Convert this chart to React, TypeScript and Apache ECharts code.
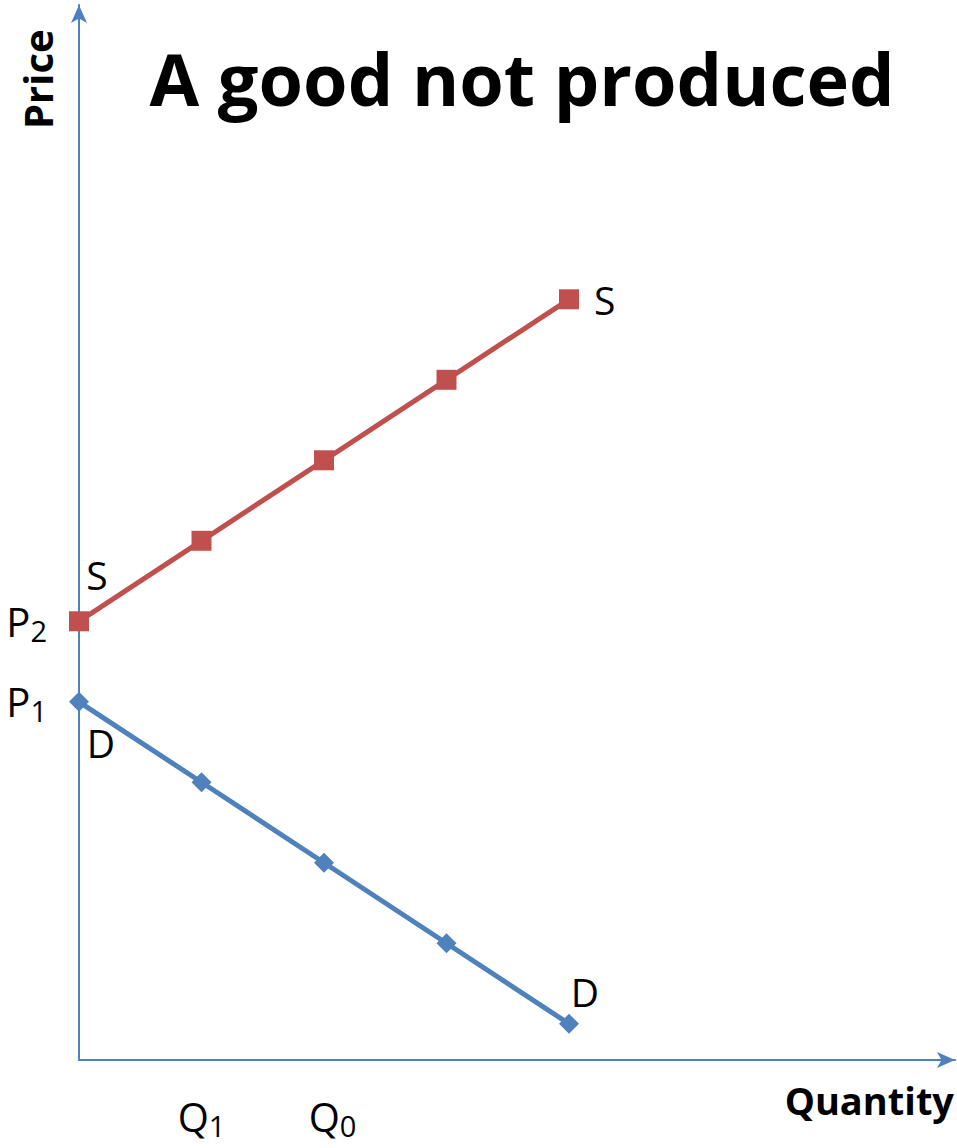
import React, { useEffect, useRef } from "react";
import * as echarts from "echarts";

const quantities = [0, 1, 2, 3, 4];
const supplyPrices = [5.45, 6.45, 7.45, 8.45, 9.45];
const demandPrices = [4.45, 3.45, 2.45, 1.45, 0.45];
const priceTicks = [4.45, 5.45];
const priceTickLabels = ["P|1", "P|2"];
const quantityTicks = [1, 2.07];
const quantityTickLabels = ["Q|1", "Q|0"];

const FONT = "'Open Sans', 'Noto Sans', sans-serif";
const AXIS_COLOR = "#4F81BD";
const SUPPLY_COLOR = "#C0504D";
const DEMAND_COLOR = "#4F81BD";

export default function App() {
  const ref = useRef<HTMLDivElement>(null);
  useEffect(() => {
    if (!ref.current) return;
    const chart = echarts.init(ref.current, undefined, { renderer: "svg" });

    const subRich = {
      m: { fontSize: 40, fontFamily: FONT, color: "#000", lineHeight: 44 },
      s: { fontSize: 29, fontFamily: FONT, color: "#000", lineHeight: 30, padding: [18, 0, 0, 0] },
    };
    const fmt = (pairs: string[], ticks: number[]) => (v: number) => {
      const i = ticks.findIndex((t) => Math.abs(t - v) < 1e-6);
      if (i < 0) return "";
      const [a, b] = pairs[i].split("|");
      return `{m|${a}}{s|${b}}`;
    };

    const endLabel = (text: string, position: any, offset: number[]) => ({
      show: true,
      formatter: text,
      position,
      offset,
      fontSize: 39,
      fontFamily: FONT,
      color: "#000",
    });

    const supplyData = quantities.map((q, i) => {
      const item: any = { value: [q, supplyPrices[i]] };
      if (i === 0) item.label = endLabel("S", "top", [18, -12]);
      if (i === quantities.length - 1) item.label = endLabel("S", "right", [10, 0]);
      return item;
    });
    const demandData = quantities.map((q, i) => {
      const item: any = { value: [q, demandPrices[i]] };
      if (i === 0) item.label = endLabel("D", "bottom", [22, 6]);
      if (i === quantities.length - 1) item.label = endLabel("D", "top", [16, 2]);
      return item;
    });

    chart.setOption({
      animation: false,
      grid: { left: 79, right: 2, top: 5, bottom: 88, containLabel: false },
      xAxis: {
        type: "value",
        min: 0,
        max: 7.151,
        splitLine: { show: false },
        axisTick: { show: false },
        axisLine: {
          show: true,
          lineStyle: { color: AXIS_COLOR, width: 2 },
          symbol: ["none", "arrow"],
          symbolSize: [12, 18],
        },
        axisLabel: {
          show: true,
          customValues: quantityTicks,
          formatter: fmt(quantityTickLabels, quantityTicks),
          margin: 34,
          rich: subRich,
        },
      },
      yAxis: {
        type: "value",
        min: 0,
        max: 13.106,
        splitLine: { show: false },
        axisTick: { show: false },
        axisLine: {
          show: true,
          lineStyle: { color: AXIS_COLOR, width: 2 },
          symbol: ["none", "arrow"],
          symbolSize: [12, 18],
        },
        axisLabel: {
          show: true,
          customValues: priceTicks,
          formatter: fmt(priceTickLabels, priceTicks),
          margin: 32,
          rich: subRich,
        },
      },
      graphic: [
        {
          type: "text",
          x: 522,
          y: 78,
          style: {
            text: "A good not produced",
            font: `bold 72px ${FONT}`,
            fill: "#000",
            textAlign: "center",
            textVerticalAlign: "middle",
          },
        },
        {
          type: "text",
          x: 17,
          y: 129,
          rotation: Math.PI / 2,
          style: {
            text: "Price",
            font: `bold 40px ${FONT}`,
            fill: "#000",
            textAlign: "left",
            textVerticalAlign: "top",
          },
        },
        {
          type: "text",
          x: 954,
          y: 1100,
          style: {
            text: "Quantity",
            font: `bold 38px ${FONT}`,
            fill: "#000",
            textAlign: "right",
            textVerticalAlign: "middle",
          },
        },
      ],
      series: [
        {
          name: "Supply",
          type: "line",
          data: supplyData,
          symbol: "rect",
          symbolSize: 20,
          itemStyle: { color: SUPPLY_COLOR },
          lineStyle: { color: SUPPLY_COLOR, width: 5 },
          label: { show: false },
          z: 3,
        },
        {
          name: "Demand",
          type: "line",
          data: demandData,
          symbol: "diamond",
          symbolSize: 20,
          itemStyle: { color: DEMAND_COLOR },
          lineStyle: { color: DEMAND_COLOR, width: 5 },
          label: { show: false },
          z: 3,
        },
      ],
    });
    return () => chart.dispose();
  }, []);
  return (
    <div
      ref={ref}
      style={{ position: "fixed", left: 0, top: 0, width: 957, height: 1148, background: "#fff" }}
    />
  );
}
